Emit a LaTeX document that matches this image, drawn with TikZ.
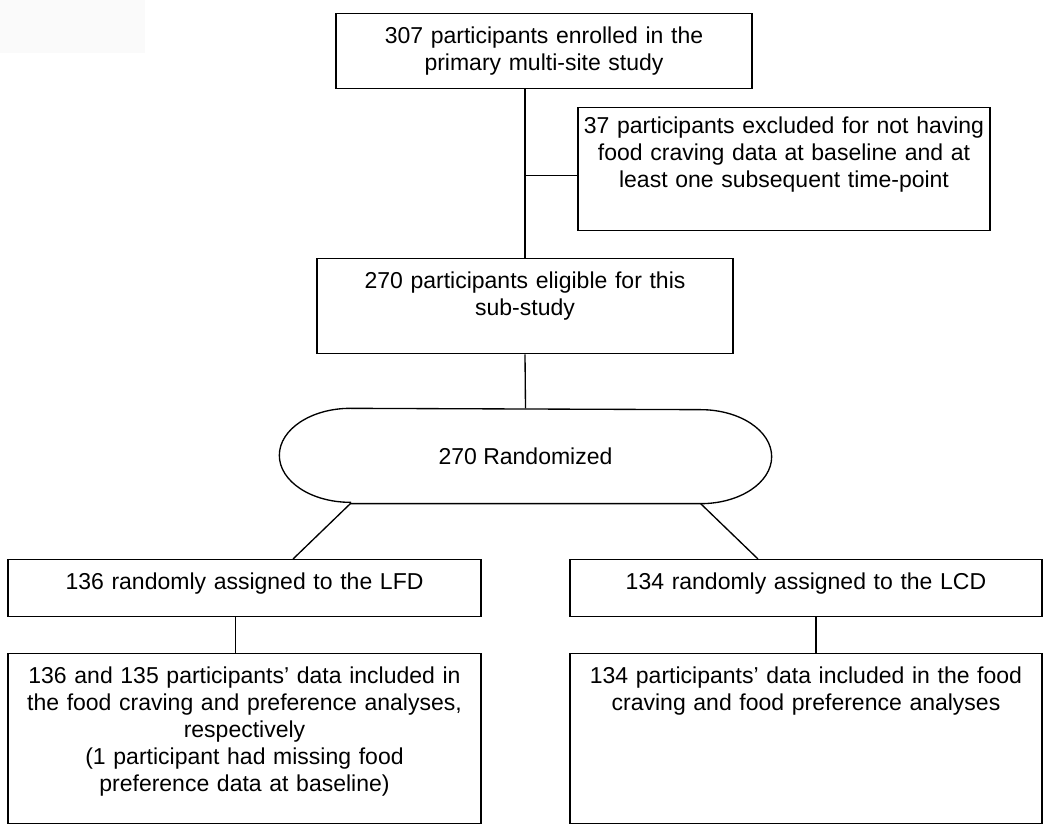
\documentclass[tikz,border=0pt]{standalone}
\usepackage{fontspec}
\setmainfont{Liberation Sans}
\begin{document}
\begin{tikzpicture}[x=0.75pt,y=-0.75pt,line width=1pt,font=\fontsize{17.25pt}{20.25pt}\selectfont]
    \tikzstyle{box}=[draw,anchor=north,align=center,inner xsep=0pt,inner ysep=10pt,text height=12.5pt]
    \useasboundingbox (0,0) rectangle (1050,837);
    \fill[black!2] (0,0) rectangle (145,53);% faint patch in the corner
    \node[box,text width=312pt,text depth=23.75pt] (enrol) at (544,13)
    {307 participants enrolled in the\\primary multi-site study};
    \node[box,text width=309pt,text height=9.5pt,text depth=62.75pt] (excl) at (784,107)
    {37 participants excluded for not having\\food craving data at baseline and at\\least one subsequent time-point};
    \node[box,text width=312pt,text depth=38.75pt] (elig) at (525,258)
    {270 participants eligible for this\\sub-study};
    \node[minimum width=368.25pt,minimum height=70.5pt,inner sep=0pt] (rand) at (525.5,456) {270 Randomized};
    \coordinate (randsw) at ([xshift=53.25pt]rand.south west);% ends of the straight sides
    \coordinate (randse) at ([xshift=-53.25pt]rand.south east);
    \coordinate (randnw) at ([xshift=53.25pt]rand.north west);
    \draw (randsw) -- (randse)
      arc[start angle=-90,end angle=90,x radius=53.25pt,y radius=35.25pt]
      -- (randnw)
      arc[start angle=90,end angle=270,x radius=53.25pt,y radius=35.25pt] -- cycle;
    \node[box,text width=354.75pt,text depth=10.25pt] (lfd) at (244.5,559)
    {136 randomly assigned to the LFD};
    \node[box,text width=354pt,text depth=10.25pt] (lcd) at (806,559)
    {134 randomly assigned to the LCD};
    \node[box,text width=354.75pt,text depth=95pt] (lfdan) at (244.5,653)
    {136 and 135 participants’ data included in\\the food craving and preference analyses,\\respectively\\(1 participant had missing food\\preference data at baseline)};
    \node[box,text width=354pt,text depth=95pt] (lcdan) at (806,653)
    {134 participants’ data included in the food\\craving and food preference analyses};
    % connectors
    \draw (elig.north) -- (elig.north |- enrol.south);
    \draw ([yshift=-5pt]excl.west) -- ([yshift=-5pt]excl.west -| elig.north);
    \draw (elig.south) -- (rand.north);
    \draw (randsw) -- ([xshift=36.4pt]lfd.north);
    \draw (randse) -- ([xshift=-36pt]lcd.north);
    \draw ([xshift=-7pt]lfd.south) -- ([xshift=-7pt]lfdan.north);
    \draw ([xshift=7.5pt]lcd.south) -- ([xshift=7.5pt]lcdan.north);
\end{tikzpicture}
\end{document}
